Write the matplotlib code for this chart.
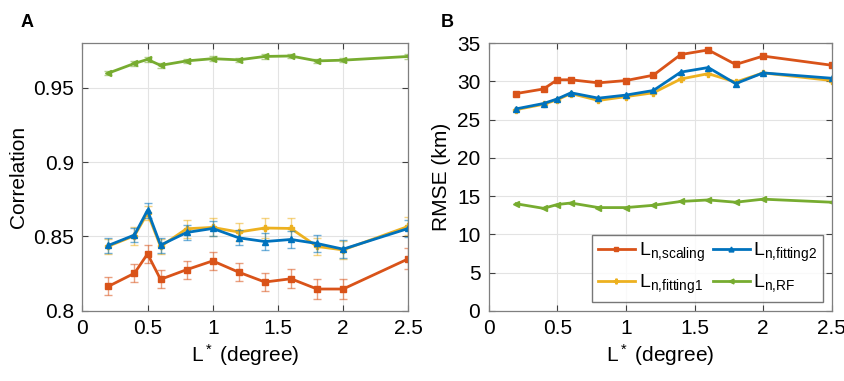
import numpy as np
import matplotlib
matplotlib.use('Agg')
from matplotlib import pyplot as plt

plt.rcParams['font.family'] = ['Liberation Sans', 'DejaVu Sans']
plt.rcParams['mathtext.default'] = 'regular'
plt.rcParams['mathtext.fontset'] = 'custom'
plt.rcParams['mathtext.rm'] = 'Liberation Sans'
plt.rcParams['mathtext.it'] = 'Liberation Sans'

# x values (L*, degree)
L = [0.2, 0.4, 0.5, 0.6, 0.8, 1.0, 1.2, 1.4, 1.6, 1.8, 2.0, 2.5]

# panel A: correlation
corr_scaling = [0.8165, 0.8253, 0.8383, 0.8212, 0.8277, 0.8336, 0.8260, 0.8194, 0.8216, 0.8147, 0.8147, 0.8350]
corr_fitting1 = [0.8435, 0.8505, 0.8658, 0.8433, 0.8552, 0.8561, 0.8530, 0.8557, 0.8554, 0.8433, 0.8410, 0.8568]
corr_fitting2 = [0.8440, 0.8510, 0.8676, 0.8442, 0.8527, 0.8554, 0.8491, 0.8466, 0.8480, 0.8453, 0.8415, 0.8554]
corr_rf = [0.9598, 0.9663, 0.9690, 0.9650, 0.9680, 0.9695, 0.9687, 0.9710, 0.9713, 0.9680, 0.9685, 0.9710]
err_scaling = [0.006, 0.006, 0.006, 0.006, 0.006, 0.006, 0.006, 0.006, 0.0065, 0.007, 0.007, 0.007]
err_fitting1 = [0.005, 0.006, 0.005, 0.005, 0.006, 0.006, 0.006, 0.007, 0.007, 0.006, 0.006, 0.006]
err_fitting2 = [0.005, 0.005, 0.005, 0.005, 0.005, 0.005, 0.005, 0.006, 0.006, 0.006, 0.006, 0.006]
err_rf = [0.0015] * 12

# panel B: RMSE (km)
rmse_scaling = [28.4, 29.0, 30.2, 30.2, 29.8, 30.1, 30.8, 33.5, 34.1, 32.2, 33.3, 32.1]
rmse_fitting1 = [26.3, 27.0, 27.6, 28.4, 27.5, 28.0, 28.5, 30.3, 31.0, 29.9, 31.1, 30.1]
rmse_fitting2 = [26.4, 27.1, 27.7, 28.5, 27.8, 28.2, 28.8, 31.2, 31.8, 29.7, 31.1, 30.4]
rmse_rf = [14.0, 13.4, 13.9, 14.1, 13.5, 13.5, 13.8, 14.3, 14.5, 14.2, 14.6, 14.2]

labels = ['L$_{n{,}scaling}$', 'L$_{n{,}fitting1}$', 'L$_{n{,}fitting2}$', 'L$_{n{,}RF}$']
colors = ['#D95319', '#EDB120', '#0072BD', '#77AC30']
markers = ['s', 'P', '^', '<']

fig = plt.figure(figsize=(8.45, 3.81), dpi=100)
axA = fig.add_axes([0.0974, 0.184, 0.3858, 0.703])
axB = fig.add_axes([0.5783, 0.184, 0.4060, 0.703])

def style(ax):
    ax.grid(True, color='#e3e3e3', linewidth=0.8)
    ax.set_axisbelow(True)
    for s in ax.spines.values():
        s.set_color('#7f7f7f')
        s.set_linewidth(0.9)
    ax.tick_params(direction='in', top=True, right=True, labelsize=15,
                   color='#404040', length=4, width=0.8, pad=6)
    ax.set_xlim(0, 2.5)
    ax.set_xticks([0, 0.5, 1, 1.5, 2, 2.5])
    ax.set_xticklabels(['0', '0.5', '1', '1.5', '2', '2.5'])
    ax.set_xlabel('L$^*$ (degree)', fontsize=15, labelpad=3)

# panel A
series = [(corr_scaling, err_scaling), (corr_fitting1, err_fitting1),
          (corr_fitting2, err_fitting2), (corr_rf, err_rf)]
for (y, e), c, m in zip(series, colors, markers):
    axA.errorbar(L, y, yerr=e, fmt='none', ecolor=c, alpha=0.55, elinewidth=1,
                 capsize=3, capthick=1)
    axA.plot(L, y, color=c, marker=m, markersize=5, linewidth=2)
style(axA)
axA.set_ylim(0.8, 0.98)
axA.set_yticks([0.8, 0.85, 0.9, 0.95])
axA.set_yticklabels(['0.8', '0.85', '0.9', '0.95'])
axA.set_ylabel('Correlation', fontsize=15)

# panel B
lines = []
for y, c, m, lab in zip([rmse_scaling, rmse_fitting1, rmse_fitting2, rmse_rf], colors, markers, labels):
    ln, = axB.plot(L, y, color=c, marker=m, markersize=5, linewidth=2, label=lab)
    lines.append(ln)
style(axB)
axB.set_ylim(0, 35)
axB.set_yticks(range(0, 36, 5))
axB.set_ylabel('RMSE (km)', fontsize=15)
leg = axB.legend(lines, labels,
                 ncol=2, loc='lower right', bbox_to_anchor=(0.975, 0.035),
                 fontsize=14, frameon=True, fancybox=False, handlelength=1.9,
                 handletextpad=0.2, columnspacing=0.4, labelspacing=0.45,
                 borderpad=0.3, borderaxespad=0, markerscale=0.7)
leg.get_frame().set_edgecolor('#555555')
leg.get_frame().set_linewidth(1)

fig.text(0.024, 0.93, 'A', fontsize=13, fontweight='bold')
fig.text(0.522, 0.93, 'B', fontsize=13, fontweight='bold')

fig.savefig('out.png', dpi=100)
